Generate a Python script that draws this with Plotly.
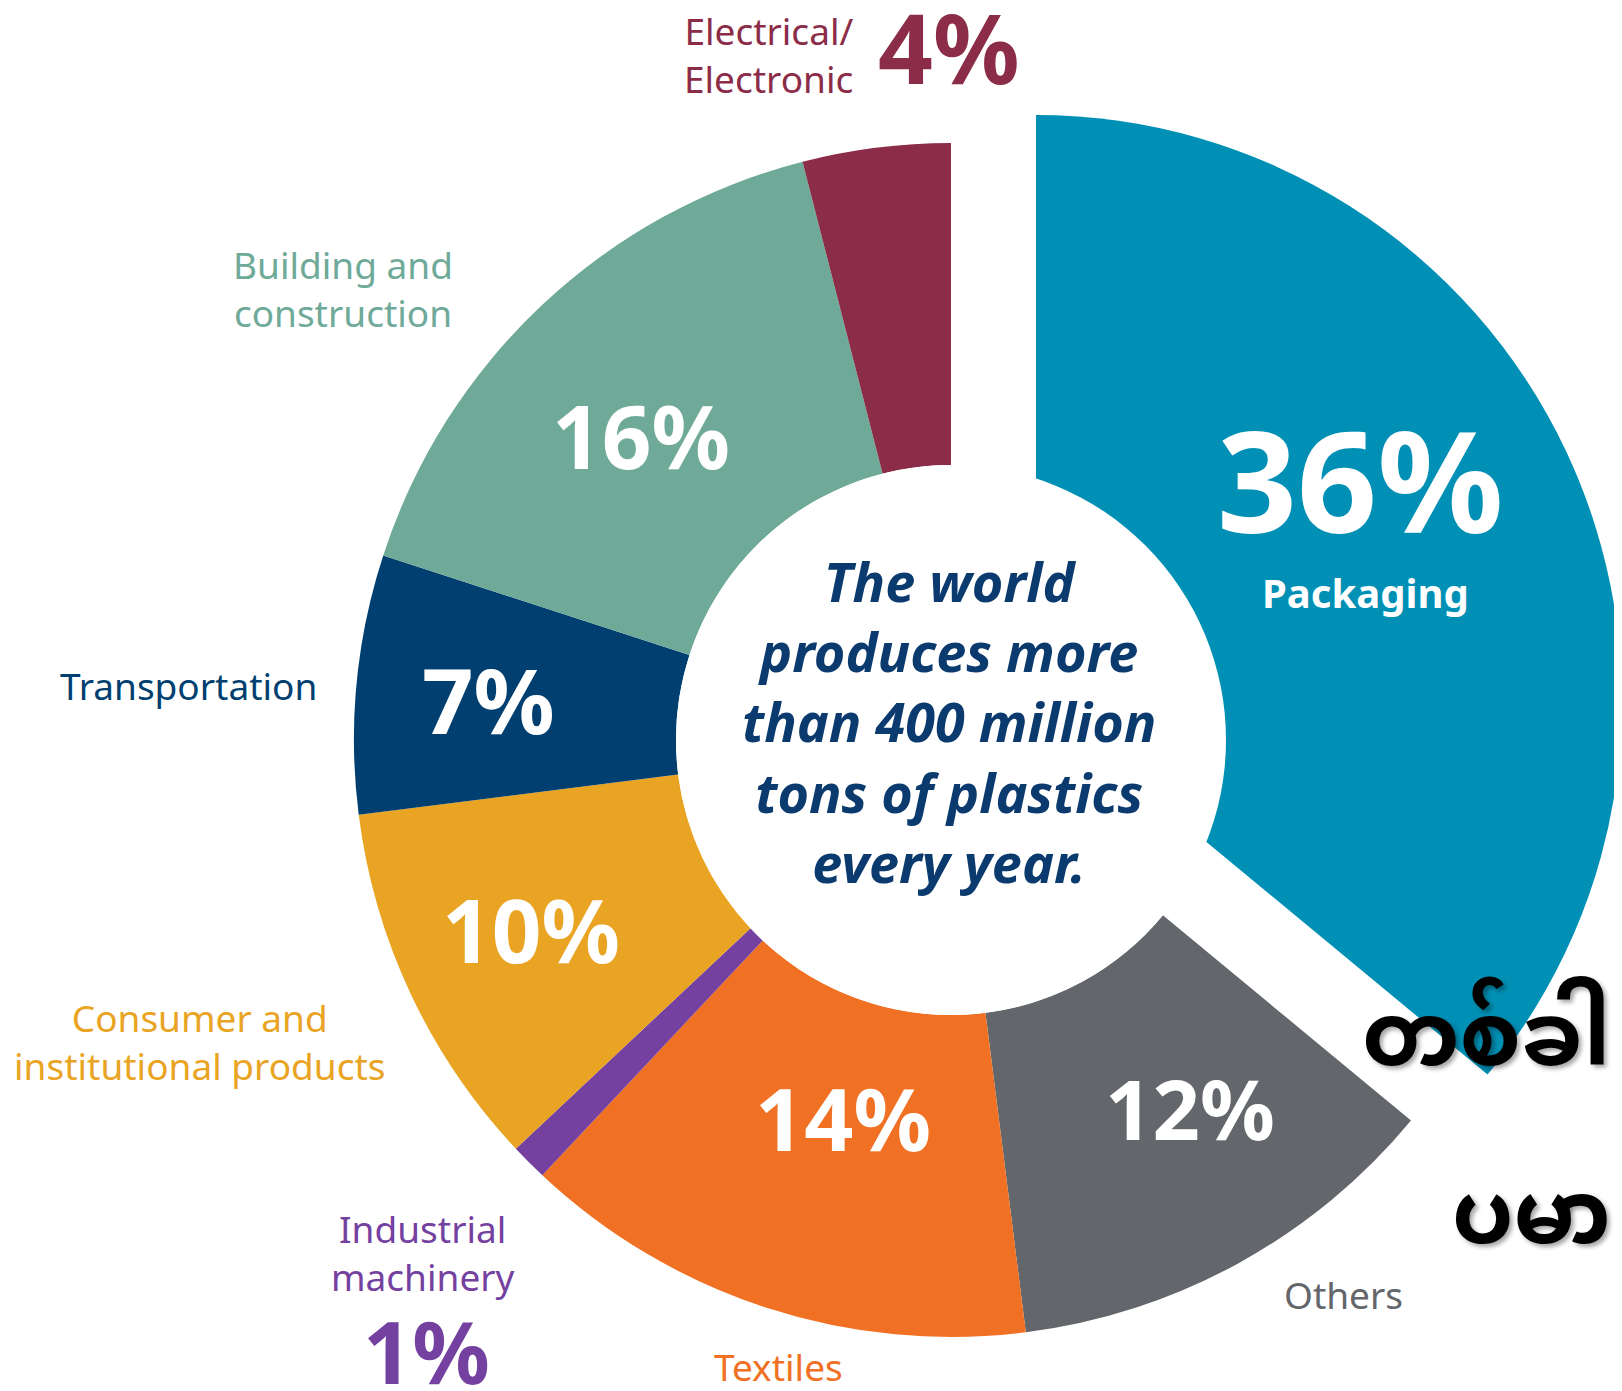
import plotly.graph_objects as go

# page is 1622x1391; the html body adds an 8px margin, so the figure is
# slightly smaller and all page positions are offset by that margin
OFF = 8
W, H = 1622 - OFF, 1391 - OFF

# ---------------- data ----------------
sectors = ["Packaging", "Others", "Textiles", "Industrial machinery",
           "Consumer and institutional products", "Transportation",
           "Building and construction", "Electrical/Electronic"]
shares = [36, 12, 14, 1, 10, 7, 16, 4]
colors = ["#0090B5", "#63666A", "#F07123", "#7441A0",
          "#E9A423", "#003F6F", "#6FAA99", "#8B2C48"]
pct_labels = ["36%", "12%", "14%", "1%", "10%", "7%", "16%", "4%"]
center_text = "The world<br>produces more<br>than 400 million<br>tons of plastics<br>every year."
burmese_line1 = "တစ်ခါသုံး"
burmese_line2 = "ပမာဏ"

FONT = "Noto Sans, Open Sans, sans-serif"
TRANSPARENT = "rgba(0,0,0,0)"


def px_dom_x(a, b):
    return [max(0.0, (a - OFF) / W), min(1.0, (b - OFF) / W)]


def px_dom_y(top, bottom):
    return [max(0.0, (H - (bottom - OFF)) / H), min(1.0, (H - (top - OFF)) / H)]


def px(x, y):
    return (x - OFF) / W, 1 - (y - OFF) / H


# geometry (page pixels)
cx, cy, R, r_in = 951, 740, 597, 275          # main ring
pcx, pcy, pR = 1036, 701, 586                 # exploded Packaging slice

colors_main = [TRANSPARENT if s == "Packaging" else c for s, c in zip(sectors, colors)]
colors_pack = [c if s == "Packaging" else TRANSPARENT for s, c in zip(sectors, colors)]

fig = go.Figure()
# exploded Packaging slice (its inner part is hidden under the white centre)
fig.add_trace(go.Pie(
    labels=sectors, values=shares, sort=False, direction="clockwise", rotation=0,
    hole=0, marker=dict(colors=colors_pack, line=dict(width=0)),
    textinfo="none", hoverinfo="skip", showlegend=False,
    domain=dict(x=px_dom_x(pcx - pR, pcx + pR), y=px_dom_y(pcy - pR, pcy + pR)),
))
# main ring
fig.add_trace(go.Pie(
    labels=sectors, values=shares, sort=False, direction="clockwise", rotation=0,
    hole=r_in / R, marker=dict(colors=colors_main, line=dict(width=0)),
    textinfo="none", hoverinfo="label+percent", showlegend=False,
    domain=dict(x=px_dom_x(cx - R, cx + R), y=px_dom_y(cy - R, cy + R)),
))

# white centre disc
x0, y1 = px(cx - r_in, cy - r_in)
x1, y0 = px(cx + r_in, cy + r_in)
shapes = [dict(type="circle", xref="paper", yref="paper", x0=x0, x1=x1, y0=y0, y1=y1,
               fillcolor="white", line=dict(width=0), layer="above")]

annotations = []


def add_text(x, y, text, size, color, bold=False, italic=False, xanchor="center",
             align="center", family=FONT, shadow=None):
    xx, yy = px(x, y)
    t = text
    if bold:
        t = "<b>" + t + "</b>"
    if italic:
        t = "<i>" + t + "</i>"
    f = dict(size=size, color=color, family=family)
    if shadow:
        f["shadow"] = shadow
    annotations.append(dict(x=xx, y=yy, xref="paper", yref="paper", text=t,
                            showarrow=False, font=f, xanchor=xanchor,
                            yanchor="middle", align=align))


col = dict(zip(sectors, colors))
pct = dict(zip(sectors, pct_labels))
LBL = 37

# inner percentage labels
add_text(1360, 478, pct["Packaging"], 140, "white", bold=True)
add_text(1365, 592, "Packaging", 40, "white", bold=True)
add_text(641, 435, pct["Building and construction"], 87, "white", bold=True)
add_text(488, 699, pct["Transportation"], 90, "white", bold=True)
add_text(531, 929, pct["Consumer and institutional products"], 87, "white", bold=True)
add_text(843, 1117, pct["Textiles"], 86, "white", bold=True)
add_text(1190, 1107, pct["Others"], 83, "white", bold=True)

# outer category labels
add_text(855, 54, "Electrical/<br>Electronic", LBL, col["Electrical/Electronic"],
         xanchor="right", align="right")
add_text(876, 47, pct["Electrical/Electronic"], 96, col["Electrical/Electronic"],
         bold=True, xanchor="left")
add_text(343, 288, "Building and<br>construction", LBL, col["Building and construction"])
add_text(188, 685, "Transportation", LBL, col["Transportation"])
add_text(199, 1041, "Consumer and<br>institutional products", LBL,
         col["Consumer and institutional products"])
add_text(423, 1252, "Industrial<br>machinery", LBL, col["Industrial machinery"])
add_text(426, 1350, pct["Industrial machinery"], 86, col["Industrial machinery"], bold=True)
add_text(778, 1366, "Textiles", LBL, col["Textiles"])
add_text(1343, 1294, "Others", LBL, col["Others"])

# centre text
add_text(949, 721, center_text, 54, "#0B3B6E", bold=True, italic=True)

# Burmese overlay text (cropped at the right edge)
MYFONT = "Noto Sans Myanmar, Padauk, Myanmar Text, Noto Sans, sans-serif"
add_text(1360, 1044, burmese_line1, 88, "black", bold=True, xanchor="left", family=MYFONT,
         shadow="3px 3px 4px rgba(0,0,0,0.35)")
add_text(1450, 1222, burmese_line2, 88, "black", bold=True, xanchor="left", family=MYFONT,
         shadow="3px 3px 4px rgba(0,0,0,0.35)")

fig.update_layout(
    width=W, height=H, margin=dict(l=0, r=0, t=0, b=0),
    paper_bgcolor="white", plot_bgcolor="white",
    annotations=annotations, shapes=shapes,
)

fig.write_html("out.html")
